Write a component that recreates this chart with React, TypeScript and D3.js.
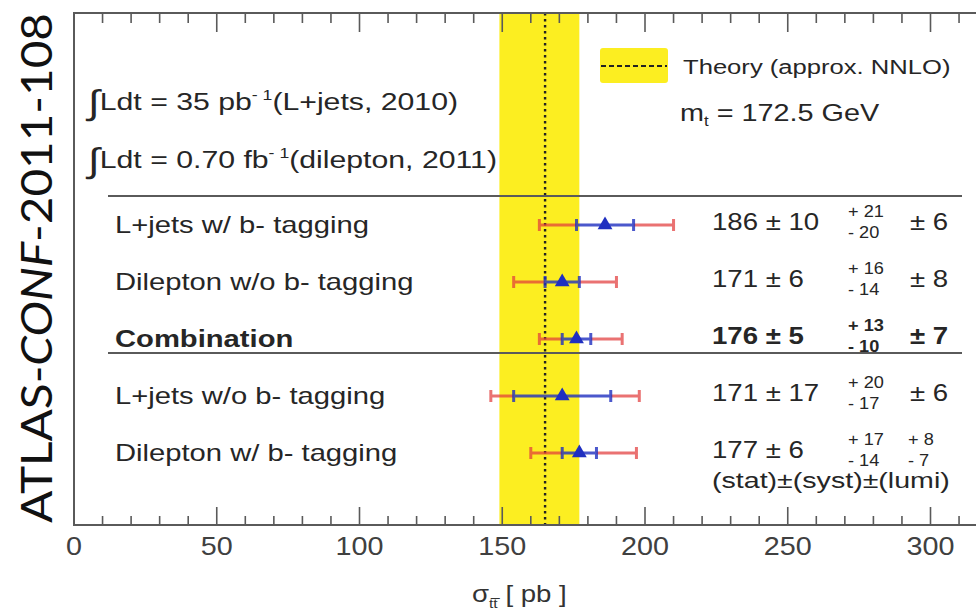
import React from "react";
import * as d3 from "d3";

// ---------- data ----------
const categories = [
  "L+jets w/ b- tagging",
  "Dilepton w/o b- tagging",
  "Combination",
  "L+jets w/o b- tagging",
  "Dilepton w/ b- tagging",
];
const central = [186, 171, 176, 171, 177];
const statErr = [10, 6, 5, 17, 6];
const systUp = [21, 16, 13, 20, 17];
const systDown = [20, 14, 10, 17, 14];
const lumiUp = [6, 8, 7, 6, 8];
const lumiDown = [6, 8, 7, 6, 7];
const totalLow = [163, 154, 163, 146, 160];
const totalHigh = [210, 190, 192, 198, 197];
const boldRow = [false, false, true, false, false];

const theoryCentral = 165;
const theoryLow = 149;
const theoryHigh = 177;

const majorTicks = [0, 50, 100, 150, 200, 250, 300];
const minorTicks = d3.range(0, 330, 10);

const FONT = "'Liberation Sans', Arial, Helvetica, sans-serif";
const TXT = "#262626";
const YELLOW = "#fcee21";
const RED = "#e23c3c";
const BLUE = "#1f2fc0";

function ST({ x, y, sx = 1.25, size, weight = "normal", anchor = "start", fill = TXT, children }: any) {
  return (
    <g transform={`translate(${x},${y}) scale(${sx},1)`}>
      <text x={0} y={0} fontSize={size} fontWeight={weight} textAnchor={anchor} fill={fill} fontFamily={FONT}>
        {children}
      </text>
    </g>
  );
}

export default function App() {
  const W = 976;
  const H = 614;
  const x = d3.scaleLinear().domain([0, 320]).range([74, 74 + 320 * 2.855]);
  const y = d3.scalePoint<string>().domain(categories).range([225, 453]);
  const top = 13;
  const bottom = 525;
  const tri = d3.symbol().type(d3.symbolTriangle).size(95)() as string;

  return (
    <svg width={W} height={H} style={{ position: "absolute", left: 0, top: 0, background: "#fff" }}>
      <rect x={0} y={0} width={W} height={H} fill="#fff" />

      {/* theory band */}
      <rect x={x(theoryLow)} y={top} width={x(theoryHigh) - x(theoryLow)} height={bottom - top} fill={YELLOW} />
      <line x1={x(theoryCentral)} x2={x(theoryCentral)} y1={top} y2={bottom} stroke="#222" strokeWidth={2.4} strokeDasharray="2.5,3.5" />

      {/* frame */}
      <rect x={x(0)} y={top} width={1000} height={bottom - top} fill="none" stroke="#5a5a5a" strokeWidth={2} />

      {/* ticks */}
      {minorTicks.map((t) => {
        const major = majorTicks.includes(t);
        const len = major ? 18 : 9;
        return (
          <g key={t}>
            <line x1={x(t)} x2={x(t)} y1={bottom} y2={bottom - len} stroke="#5a5a5a" strokeWidth={1.6} />
            <line x1={x(t)} x2={x(t)} y1={top} y2={top + (major ? 19 : 10)} stroke="#5a5a5a" strokeWidth={1.6} />
          </g>
        );
      })}
      {majorTicks.map((t) => (
        <ST key={"l" + t} x={x(t)} y={555} size={25} sx={1.15} anchor="middle" fill="#404040">
          {String(t)}
        </ST>
      ))}

      {/* axis title */}
      <ST x={472} y={602} size={23} sx={1.2} fill="#333">
        σ
        <tspan fontSize={13} dy={6}>t{"t\u0305"}</tspan>
        <tspan dy={-6}> [ pb ]</tspan>
      </ST>

      {/* ATLAS label */}
      <text
        transform="translate(52,523) rotate(-90)"
        fontSize={42}
        fontFamily="Lato, 'Open Sans', sans-serif"
        fill="#111"
        textLength={510}
        lengthAdjust="spacingAndGlyphs"
      >
        ATLAS-<tspan fontStyle="italic">CONF</tspan>-2011-108
      </text>

      {/* luminosity annotations */}
      <ST x={88} y={110} size={24} sx={1.26}>
        <tspan fontSize={34} dy={4}>∫</tspan>
        <tspan dy={-4}>Ldt = 35 pb</tspan>
        <tspan fontSize={14} dy={-10}>- 1</tspan>
        <tspan dy={10}>(L+jets, 2010)</tspan>
      </ST>
      <ST x={88} y={168} size={24} sx={1.26}>
        <tspan fontSize={34} dy={4}>∫</tspan>
        <tspan dy={-4}>Ldt = 0.70 fb</tspan>
        <tspan fontSize={14} dy={-10}>- 1</tspan>
        <tspan dy={10}>(dilepton, 2011)</tspan>
      </ST>

      {/* legend */}
      <rect x={600} y={48} width={68} height={35} rx={3} fill={YELLOW} />
      <line x1={601} x2={667} y1={66} y2={66} stroke="#222" strokeWidth={1.8} strokeDasharray="5,3" />
      <ST x={683} y={74} size={21} sx={1.22}>Theory (approx. NNLO)</ST>
      <ST x={680} y={121} size={24} sx={1.2}>
        m<tspan fontSize={14} dy={5}>t</tspan>
        <tspan dy={-5}> = 172.5 GeV</tspan>
      </ST>

      {/* separators */}
      <line x1={108} x2={962} y1={y(categories[0])! - 29} y2={y(categories[0])! - 29} stroke="#5a5a5a" strokeWidth={2} />
      <line x1={108} x2={962} y1={y(categories[2])! + 14} y2={y(categories[2])! + 14} stroke="#5a5a5a" strokeWidth={2} />

      {/* rows */}
      {categories.map((c, i) => {
        const yy = y(c)!;
        const w = boldRow[i] ? "bold" : "normal";
        const sLo = central[i] - statErr[i];
        const sHi = central[i] + statErr[i];
        return (
          <g key={c}>
            <ST x={115} y={yy + 8} size={23} sx={1.27} weight={w}>{c}</ST>

            {/* total error (red) */}
            <g opacity={0.72} stroke={RED} strokeWidth={3}>
              <line x1={x(totalLow[i])} x2={x(sLo)} y1={yy} y2={yy} />
              <line x1={x(sHi)} x2={x(totalHigh[i])} y1={yy} y2={yy} />
              <line x1={x(totalLow[i])} x2={x(totalLow[i])} y1={yy - 6} y2={yy + 6} />
              <line x1={x(totalHigh[i])} x2={x(totalHigh[i])} y1={yy - 6} y2={yy + 6} />
            </g>
            {/* stat error (blue) */}
            <g opacity={0.8} stroke={BLUE} strokeWidth={3}>
              <line x1={x(sLo)} x2={x(sHi)} y1={yy} y2={yy} />
              <line x1={x(sLo)} x2={x(sLo)} y1={yy - 6} y2={yy + 6} />
              <line x1={x(sHi)} x2={x(sHi)} y1={yy - 6} y2={yy + 6} />
            </g>
            <path d={tri} transform={`translate(${x(central[i])},${yy})`} fill={BLUE} />

            {/* values */}
            <ST x={712} y={yy + 5} size={24} sx={1.15} weight={w}>
              {`${central[i]} ± ${statErr[i]}`}
            </ST>
            <ST x={848} y={yy - 8} size={16.5} sx={1.1} weight={w}>{`+ ${systUp[i]}`}</ST>
            <ST x={848} y={yy + 13} size={16.5} sx={1.1} weight={w}>{`- ${systDown[i]}`}</ST>
            {lumiUp[i] === lumiDown[i] ? (
              <ST x={910} y={yy + 5} size={24} sx={1.15} weight={w}>{`± ${lumiUp[i]}`}</ST>
            ) : (
              <g>
                <ST x={908} y={yy - 8} size={16.5} sx={1.1} weight={w}>{`+ ${lumiUp[i]}`}</ST>
                <ST x={908} y={yy + 13} size={16.5} sx={1.1} weight={w}>{`- ${lumiDown[i]}`}</ST>
              </g>
            )}
          </g>
        );
      })}

      <ST x={712} y={488} size={22} sx={1.3}>(stat)±(syst)±(lumi)</ST>
    </svg>
  );
}
